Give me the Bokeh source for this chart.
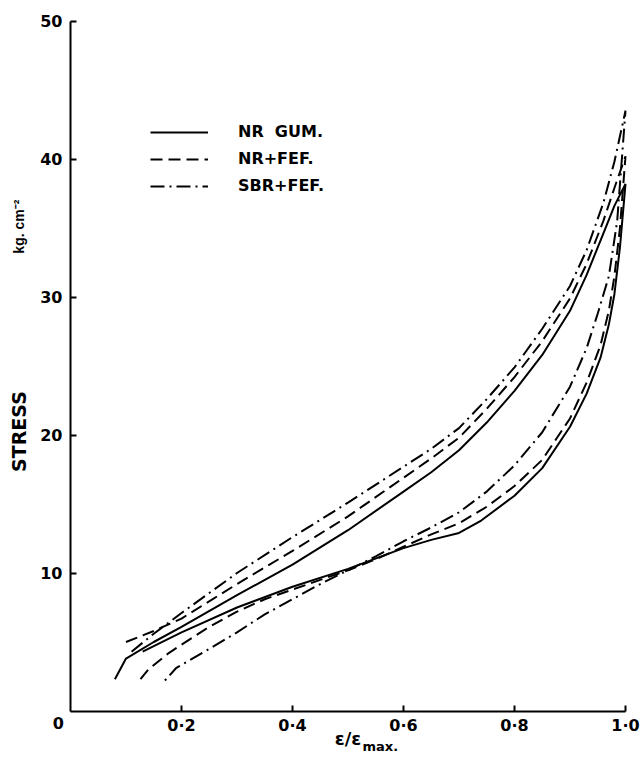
from bokeh.plotting import figure
from bokeh.models import Range1d, FixedTicker, Label, Legend, LegendItem
from bokeh.embed import file_html
from bokeh.resources import INLINE

# Strain ratio (e / e_max) and stress (kg cm^-2) for the loading (upper)
# and unloading (lower) branches of each hysteresis loop.
nr_gum_up_x = [0.08, 0.10, 0.15, 0.20, 0.30, 0.40, 0.50, 0.60, 0.65, 0.70, 0.75, 0.80, 0.85, 0.90, 0.93, 0.96, 0.98, 1.00]
nr_gum_up_y = [2.3, 3.8, 5.0, 6.1, 8.4, 10.6, 13.1, 15.9, 17.3, 18.9, 20.9, 23.2, 25.8, 29.0, 31.6, 34.6, 36.6, 38.2]
nr_gum_dn_x = [0.13, 0.20, 0.30, 0.40, 0.50, 0.60, 0.65, 0.70, 0.74, 0.80, 0.85, 0.90, 0.93, 0.955, 0.97, 0.98, 0.99, 1.00]
nr_gum_dn_y = [4.3, 5.7, 7.5, 9.0, 10.3, 11.8, 12.4, 12.9, 13.8, 15.6, 17.6, 20.6, 23.0, 25.6, 28.0, 30.2, 33.6, 38.2]

nr_fef_up_x = [0.10, 0.15, 0.20, 0.30, 0.40, 0.50, 0.60, 0.65, 0.70, 0.75, 0.80, 0.85, 0.90, 0.93, 0.96, 0.98, 1.00]
nr_fef_up_y = [5.0, 5.8, 6.7, 9.2, 11.6, 14.1, 16.9, 18.3, 19.8, 21.9, 24.2, 26.8, 29.9, 32.4, 35.5, 37.9, 40.2]
nr_fef_dn_x = [0.12, 0.14, 0.177, 0.20, 0.25, 0.30, 0.35, 0.40, 0.45, 0.50, 0.55, 0.60, 0.65, 0.70, 0.75, 0.80, 0.85, 0.90, 0.93, 0.955, 0.97, 0.98, 0.99, 1.00]
nr_fef_dn_y = [2.0, 3.0, 4.2, 4.8, 6.1, 7.2, 8.1, 8.8, 9.5, 10.2, 11.0, 11.9, 12.8, 13.6, 14.8, 16.3, 18.2, 21.2, 23.8, 26.5, 29.0, 31.5, 35.0, 40.2]

sbr_fef_up_x = [0.11, 0.15, 0.20, 0.30, 0.40, 0.50, 0.60, 0.65, 0.70, 0.75, 0.80, 0.85, 0.90, 0.93, 0.96, 0.98, 1.00]
sbr_fef_up_y = [4.3, 5.6, 7.1, 10.0, 12.6, 15.1, 17.7, 19.0, 20.5, 22.6, 24.9, 27.7, 30.8, 33.4, 36.8, 39.8, 43.5]
sbr_fef_dn_x = [0.17, 0.19, 0.25, 0.30, 0.35, 0.40, 0.45, 0.50, 0.55, 0.60, 0.65, 0.70, 0.75, 0.80, 0.85, 0.90, 0.93, 0.95, 0.97, 0.985, 1.00]
sbr_fef_dn_y = [2.2, 3.1, 4.5, 5.7, 7.0, 8.1, 9.2, 10.2, 11.2, 12.3, 13.3, 14.4, 15.9, 17.8, 20.2, 23.5, 26.3, 28.8, 31.5, 35.5, 43.5]

series_names = ["NR  GUM.", "NR+FEF.", "SBR+FEF."]
x_ticks = [0.2, 0.4, 0.6, 0.8, 1.0]
x_tick_labels = ["0·2", "0·4", "0·6", "0·8", "1·0"]
y_ticks = [10, 20, 30, 40, 50]

FONT = "DejaVu Sans"
W, H = 643, 759

# The plotting frame fills the whole canvas; both axes sit at zero inside it,
# so the titles around them can be drawn as ordinary data-space labels.
p = figure(width=W, height=H, output_backend="svg", toolbar_location=None,
           x_range=Range1d(-70 / 555, 1 + 18 / 555),
           y_range=Range1d(-48.5 / 13.8, 50 + 20.5 / 13.8),
           min_border=0)
p.outline_line_color = None
p.grid.visible = False
p.background_fill_color = "white"
p.border_fill_color = "white"

p.xaxis.fixed_location = 0
p.xaxis.bounds = (0, 1.0)
p.yaxis.fixed_location = 0
p.yaxis.bounds = (0, 50)

for ax in (p.xaxis[0], p.yaxis[0]):
    ax.axis_line_width = 2
    ax.axis_line_color = "black"
    ax.major_tick_line_width = 2
    ax.major_tick_line_color = "black"
    ax.major_tick_in = 6
    ax.major_tick_out = 0
    ax.minor_tick_line_color = None
    ax.major_label_text_font = FONT
    ax.major_label_text_font_style = "bold"
    ax.major_label_text_font_size = "16px"
    ax.major_label_text_color = "black"

p.xaxis.ticker = FixedTicker(ticks=x_ticks)
p.xaxis.major_label_overrides = {t: s for t, s in zip(x_ticks, x_tick_labels)}
p.xaxis.major_label_standoff = 5
p.yaxis.ticker = FixedTicker(ticks=y_ticks)
p.yaxis.major_label_standoff = 8
p.yaxis.major_label_orientation = "horizontal"


def loop(up_x, up_y, dn_x, dn_y):
    # loading branch out to the peak, then unloading branch back down
    return up_x + dn_x[::-1], up_y + dn_y[::-1]


styles = [dict(line_dash="solid"),
          dict(line_dash="12 6"),
          dict(line_dash="14 5 2 5")]
data = [loop(nr_gum_up_x, nr_gum_up_y, nr_gum_dn_x, nr_gum_dn_y),
        loop(nr_fef_up_x, nr_fef_up_y, nr_fef_dn_x, nr_fef_dn_y),
        loop(sbr_fef_up_x, sbr_fef_up_y, sbr_fef_dn_x, sbr_fef_dn_y)]

items = []
for name, (xs, ys), st in zip(series_names, data, styles):
    r = p.line(xs, ys, line_color="black", line_width=2, **st)
    items.append(LegendItem(label=name, renderers=[r]))

legend = Legend(items=items, location=(150, 564), glyph_width=58, glyph_height=18,
                label_standoff=30, spacing=8, padding=4, margin=0,
                border_line_color=None, background_fill_alpha=0,
                label_text_font=FONT, label_text_font_style="bold",
                label_text_font_size="16px", label_text_color="black")
p.add_layout(legend)


def text_label(text, x, y, size, font=FONT, **kw):
    p.add_layout(Label(x=x, y=y, text=text, text_font=font, text_font_style="bold",
                       text_font_size=size, text_color="black", **kw))


text_label("0", -0.022, -0.85, "16px", text_align="center", text_baseline="middle")
text_label("STRESS", -0.092, 20.25, "19px", angle=90, angle_units="deg",
           text_align="center", text_baseline="middle")
text_label("kg. cm⁻²", -0.092, 35.1, "14px", font="Liberation Sans", angle=90,
           angle_units="deg", text_align="center", text_baseline="middle")
text_label("ε/ε", 0.524, -2.0, "18px", text_align="right", text_baseline="middle")
text_label("max.", 0.526, -2.55, "13px", text_align="left", text_baseline="middle")

open("out.html", "w").write(file_html(p, INLINE))
